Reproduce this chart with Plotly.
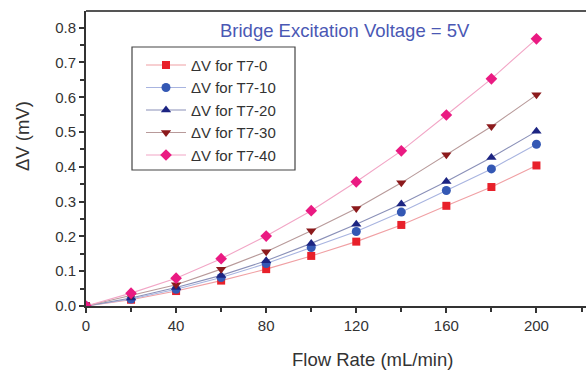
import plotly.graph_objects as go

flow = [0, 20, 40, 60, 80, 100, 120, 140, 160, 180, 200]
t7_0 = [0.0, 0.018, 0.043, 0.073, 0.106, 0.144, 0.185, 0.233, 0.288, 0.342, 0.404]
t7_10 = [0.0, 0.020, 0.048, 0.082, 0.122, 0.168, 0.214, 0.270, 0.332, 0.394, 0.465]
t7_20 = [0.0, 0.023, 0.053, 0.088, 0.130, 0.180, 0.235, 0.293, 0.358, 0.427, 0.502]
t7_30 = [0.0, 0.030, 0.061, 0.106, 0.156, 0.216, 0.280, 0.354, 0.435, 0.516, 0.607]
t7_40 = [0.0, 0.037, 0.080, 0.136, 0.201, 0.274, 0.357, 0.446, 0.549, 0.653, 0.768]

series = [
    ("ΔV for T7-0", t7_0, "square", "#e8202a", "#f0a0a4"),
    ("ΔV for T7-10", t7_10, "circle", "#3458b4", "#a8b4e0"),
    ("ΔV for T7-20", t7_20, "triangle-up", "#1c2482", "#8a90b8"),
    ("ΔV for T7-30", t7_30, "triangle-down", "#8c1a1c", "#b89a9a"),
    ("ΔV for T7-40", t7_40, "diamond", "#ea1a82", "#f2a6c6"),
]

fig = go.Figure()
for name, ys, sym, mc, lc in series:
    fig.add_trace(go.Scatter(
        x=flow, y=ys, name=name, mode="lines+markers",
        line=dict(color=lc, width=1.1),
        marker=dict(symbol=sym, color=mc, size=9 if sym != "square" else 8),
    ))

axis_col = "#333333"
fig.update_layout(
    width=586, height=371,
    margin=dict(l=86, r=0, t=11, b=65),
    paper_bgcolor="white", plot_bgcolor="white",
    font=dict(family="Liberation Sans, Arial, sans-serif", color="#333333", size=15),
    showlegend=True,
    legend=dict(
        x=0.11, y=0.872, xanchor="left", yanchor="top",
        borderwidth=0, bgcolor="rgba(0,0,0,0)",
        font=dict(size=15, color="#333333"),
        tracegroupgap=0, itemwidth=40,
    ),
    xaxis=dict(
        range=[0, 222], tickmode="array", tickvals=[0, 40, 80, 120, 160, 200],
        showline=True, linecolor=axis_col, linewidth=2,
        ticks="outside", ticklen=5, tickwidth=1.5, tickcolor=axis_col,
        minor=dict(tickvals=[20, 60, 100, 140, 180, 220], ticks="outside", ticklen=4, tickcolor=axis_col, tickwidth=1.5),
        showgrid=False, zeroline=False, automargin=False,
        tickfont=dict(size=15),
    ),
    yaxis=dict(
        range=[0, 0.848], tickmode="array",
        tickvals=[0, 0.1, 0.2, 0.3, 0.4, 0.5, 0.6, 0.7, 0.8],
        ticktext=["0.0", "0.1", "0.2", "0.3", "0.4", "0.5", "0.6", "0.7", "0.8"],
        showline=True, linecolor=axis_col, linewidth=2,
        ticks="outside", ticklen=5, tickwidth=1.5, tickcolor=axis_col,
        minor=dict(tickvals=[0.05, 0.15, 0.25, 0.35, 0.45, 0.55, 0.65, 0.75], ticks="outside", ticklen=4, tickcolor=axis_col, tickwidth=1.5),
        showgrid=False, zeroline=False, automargin=False,
        tickfont=dict(size=15),
    ),
)

fig.add_shape(type="line", xref="paper", yref="paper", x0=0, x1=1, y0=1, y1=1,
              line=dict(color="#555555", width=2))
# legend frame
fig.add_shape(type="rect", xref="paper", yref="paper", x0=0.092, x1=0.418, y0=0.461, y1=0.878,
              line=dict(color="#444444", width=1.2), fillcolor="white", layer="below")

fig.add_annotation(text="Bridge Excitation Voltage = 5V", xref="paper", yref="paper",
                   x=0.518, y=0.935, xanchor="center", yanchor="middle", showarrow=False,
                   font=dict(size=18.5, color="#4a58b4"))
fig.add_annotation(text="Flow Rate (mL/min)", xref="paper", yref="paper",
                   x=0.572, y=-0.182, xanchor="center", yanchor="middle", showarrow=False,
                   font=dict(size=18.5, color="#333333"))
fig.add_annotation(text="ΔV (mV)", xref="paper", yref="paper",
                   x=-0.128, y=0.576, xanchor="center", yanchor="middle", showarrow=False,
                   textangle=-90, font=dict(size=18.5, color="#333333"))

fig.write_html("out.html", post_script="document.body.style.margin='0';",
               config={"displayModeBar": False})
